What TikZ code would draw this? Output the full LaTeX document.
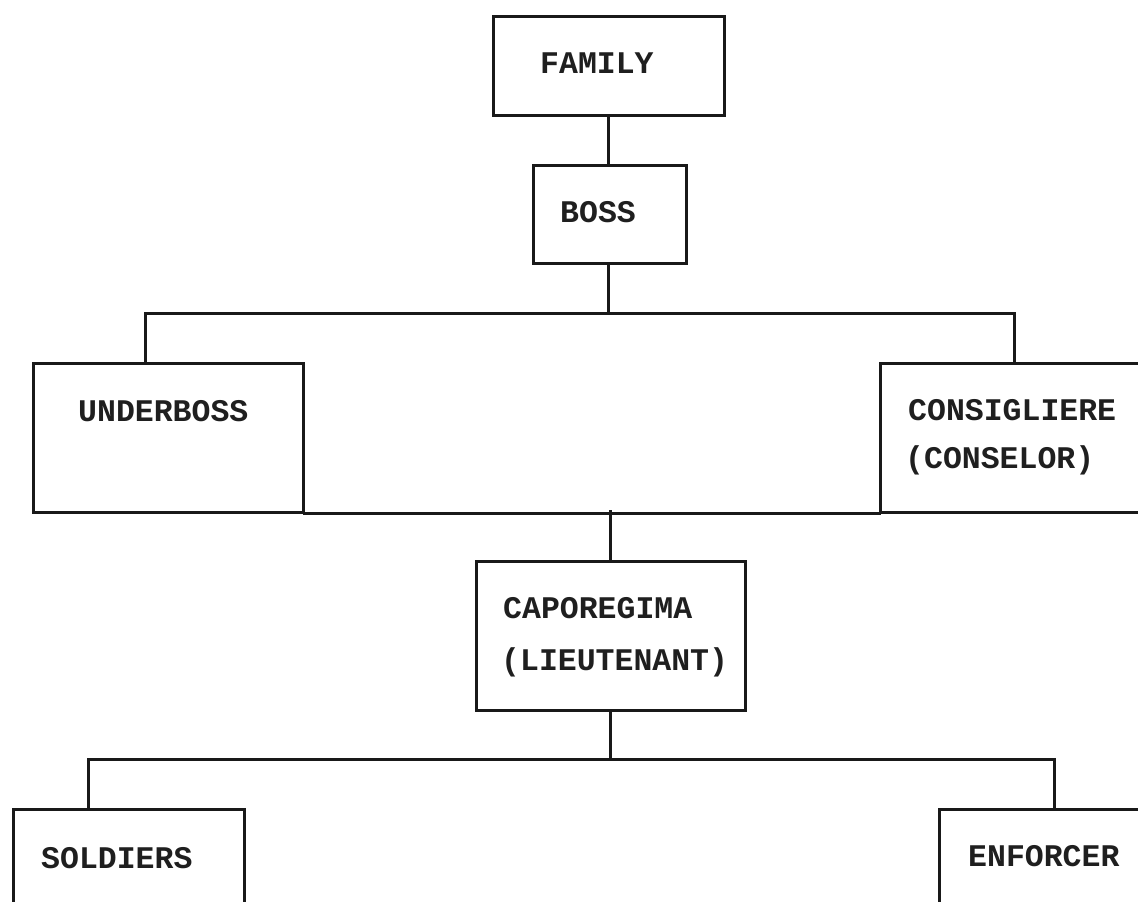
\documentclass[tikz,border=0pt]{standalone}
\usepackage{fontspec}
\setmonofont{Liberation Mono}
\begin{document}
\begin{tikzpicture}[x=1pt,y=-1pt,
  box/.style={draw=black!90, line width=2.8pt, rectangle, inner sep=0pt, anchor=north west},
  lbl/.style={anchor=base west, inner sep=0pt, font=\fontsize{31.5}{36}\selectfont\ttfamily\bfseries, text=black!88},
  connector/.style={draw=black!90, line width=3.0pt, line cap=rect}]
\useasboundingbox (0,0) rectangle (1138,902);
\fill[white] (0,0) rectangle (1138,902);
\clip (0,0) rectangle (1138,902);
% boxes
\node[box, minimum width=231pt, minimum height=99pt] (family) at (492,15) {};
\node[box, minimum width=153pt, minimum height=98pt] (boss) at (532,164) {};
\node[box, minimum width=270pt, minimum height=149pt] (ub) at (32,362) {};
\node[box, minimum width=290pt, minimum height=149pt] (cons) at (879,362) {};
\node[box, minimum width=269pt, minimum height=149pt] (capo) at (475,560) {};
\node[box, minimum width=231pt, minimum height=140pt] (sold) at (12,808) {};
\node[box, minimum width=230pt, minimum height=140pt] (enf) at (938,808) {};
% labels
\node[lbl] (tfamily) at (540,73) {FAMILY};
\node[lbl] (tboss) at (560,222) {BOSS};
\node[lbl] (tub) at (78,421) {UNDERBOSS};
\node[lbl] (tcons1) at (908,420) {CONSIGLIERE};
\node[lbl] (tcons2) at (905,468) {(CONSELOR)};
\node[lbl] (tcapo1) at (503,618) {CAPOREGIMA};
\node[lbl] (tcapo2) at (501,670) {(LIEUTENANT)};
\node[lbl] (tsold) at (41,868) {SOLDIERS};
\node[lbl] (tenf) at (968,866) {ENFORCER};
% connector points
\coordinate (b1l) at (145,313);
\coordinate (b1m) at (608,313);
\coordinate (b1r) at (1014,313);
\coordinate (b2m) at (610,511);
\coordinate (b3l) at (88,759);
\coordinate (b3m) at (610,759);
\coordinate (b3r) at (1054,759);
% connectors
\draw[connector] (family.south -| b1m) -- (boss.north -| b1m);
\draw[connector] (boss.south -| b1m) -- (b1m);
\draw[connector] (b1l) -- (b1r);
\draw[connector] (b1l) -- (b1l |- ub.north);
\draw[connector] (b1r) -- (b1r |- cons.north);
\draw[connector] (ub.south east) -- (cons.south west);
\draw[connector] (b2m) -- (b2m |- capo.north);
\draw[connector] (capo.south -| b3m) -- (b3m);
\draw[connector] (b3l) -- (b3r);
\draw[connector] (b3l) -- (b3l |- sold.north);
\draw[connector] (b3r) -- (b3r |- enf.north);
\end{tikzpicture}
\end{document}
